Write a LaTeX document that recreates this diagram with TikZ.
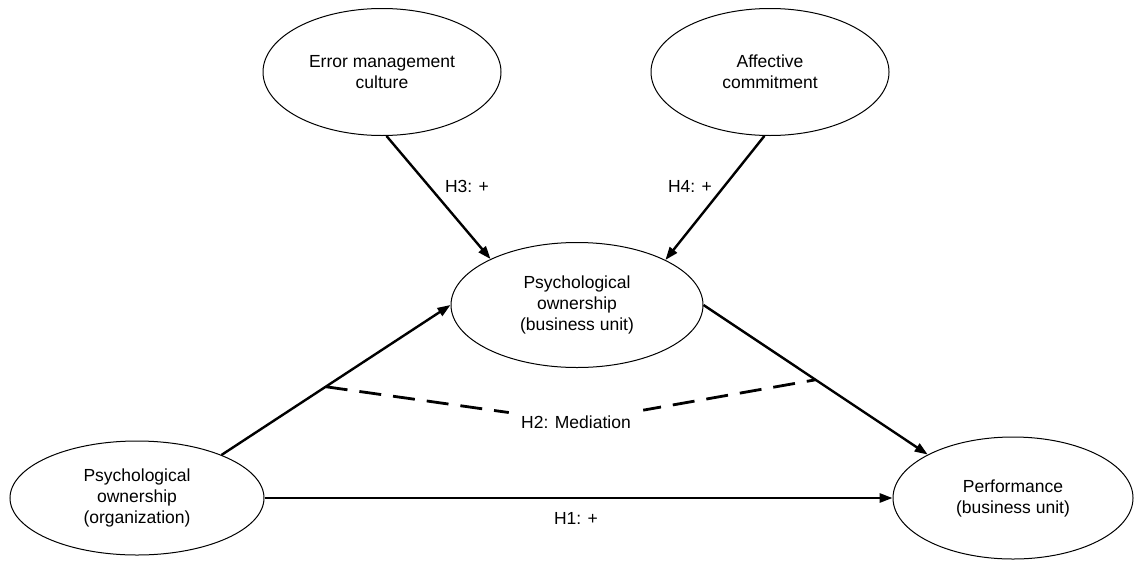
\documentclass[tikz,border=0pt]{standalone}
\usepackage{fontspec}
\setmainfont{Liberation Sans}
\usetikzlibrary{shapes.geometric,arrows.meta}

\begin{document}
\begin{tikzpicture}[x=0.5pt,y=-0.5pt,
  construct/.style={ellipse,draw,line width=0.5pt,inner sep=0pt,align=center,
    font=\fontsize{8.75}{10.5}\selectfont},
  path arrow/.style={line width=1.2pt,-{Triangle[length=6.5pt,width=4.6pt]}},
  hyp/.style={font=\fontsize{8.75}{10.5}\selectfont,inner sep=0pt},
  mediation/.style={line width=1.4pt,dash pattern=on 11pt off 6pt}]
  \useasboundingbox (0,0) rectangle (1134,562);

  % constructs
  \node[construct,minimum width=119pt,minimum height=63.5pt] (emc) at (382,72)
    {Error management\\culture};
  \node[construct,minimum width=119pt,minimum height=63.5pt] (ac) at (770,72)
    {Affective\\commitment};
  \node[construct,minimum width=126pt,minimum height=62.5pt] (pobu) at (577,305)
    {Psychological\\ownership\\(business unit)};
  \node[construct,minimum width=127pt,minimum height=57pt] (poorg) at (137,498)
    {Psychological\\ownership\\(organization)};
  \node[construct,minimum width=120pt,minimum height=61pt] (perf) at (1013,498)
    {Performance\\(business unit)};

  % structural paths
  \draw[path arrow] (emc.-86) -- (pobu.152);
  \draw[path arrow] (ac.-95) -- (pobu.27);
  \draw[path arrow] (poorg.27) -- coordinate[pos=0.455] (mleft) (pobu.180);
  \draw[path arrow] (pobu.0) -- coordinate[pos=0.5] (mright) (perf.153);
  \draw[path arrow] (poorg.east) -- (perf.west);

  % hypothesis labels
  \node[hyp] (h3) at (467,186) {H3: +};
  \node[hyp] (h4) at (690,186) {H4: +};
  \node[hyp] (h1) at (576,518) {H1: +};

  % mediation
  \node[hyp,inner xsep=6pt,inner ysep=6pt] (h2) at (576,422) {H2: Mediation};
  \draw[mediation] (mleft) -- (h2);
  \draw[mediation,dash phase=6.5pt] (mright) -- (h2);
\end{tikzpicture}
\end{document}
